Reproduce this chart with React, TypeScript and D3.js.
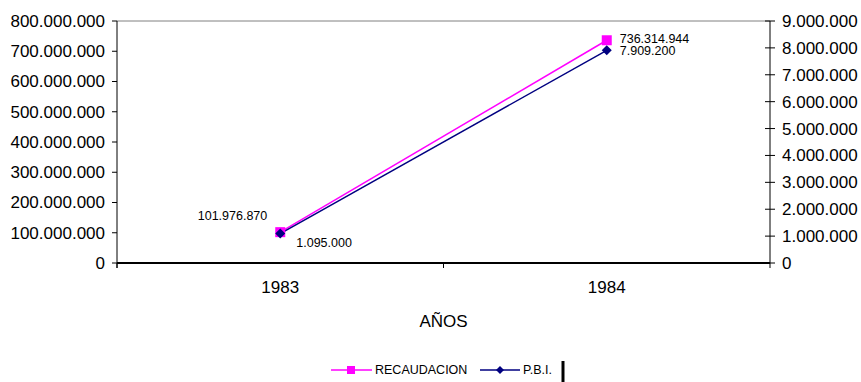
import React from 'react';
import * as d3 from 'd3';

const years = ['1983', '1984'];
const recaudacion = [101976870, 736314944];
const pbi = [1095000, 7909200];
const leftTicks = [0, 100000000, 200000000, 300000000, 400000000, 500000000, 600000000, 700000000, 800000000];
const rightTicks = [0, 1000000, 2000000, 3000000, 4000000, 5000000, 6000000, 7000000, 8000000, 9000000];

const fmt = (v: number) => d3.format(',')(v).replace(/,/g, '.');

const W = 861;
const H = 382;
const margin = { top: 21, right: 91, bottom: 119, left: 117 };
const FONT = '"Liberation Sans", Arial, sans-serif';
const BIG = 17;
const SMALL = 12.5;

export default function App() {
  const x = d3.scaleBand<string>().domain(years).range([margin.left, W - margin.right]).padding(0);
  const yL = d3.scaleLinear().domain([0, 800000000]).range([H - margin.bottom, margin.top]);
  const yR = d3.scaleLinear().domain([0, 9000000]).range([H - margin.bottom, margin.top]);
  const cx = (d: string) => (x(d) ?? 0) + x.bandwidth() / 2;
  const bottom = H - margin.bottom;
  const right = W - margin.right;

  const lineL = d3.line<number>().x((_, i) => cx(years[i])).y(d => yL(d));
  const lineR = d3.line<number>().x((_, i) => cx(years[i])).y(d => yR(d));

  const diamond = (px: number, py: number, r: number) =>
    `M${px},${py - r}L${px + r},${py}L${px},${py + r}L${px - r},${py}Z`;

  return (
    <svg width={W} height={H} style={{ position: 'absolute', left: 0, top: 0, fontFamily: FONT }}>
      <rect width={W} height={H} fill="#fff" />
      {/* frame */}
      <line x1={margin.left} x2={right} y1={margin.top} y2={margin.top} stroke="#808080" />
      <line x1={margin.left} x2={margin.left} y1={margin.top} y2={bottom + 5} stroke="#000" />
      <line x1={right} x2={right} y1={margin.top} y2={bottom + 5} stroke="#000" />
      <line x1={margin.left} x2={right} y1={bottom} y2={bottom} stroke="#000" strokeWidth={2} />

      {/* left axis */}
      {leftTicks.map(t => (
        <g key={'l' + t}>
          <line x1={margin.left - 5} x2={margin.left} y1={yL(t)} y2={yL(t)} stroke="#000" />
          <text x={margin.left - 12} y={yL(t)} dy="0.35em" textAnchor="end" fontSize={BIG} fill="#000">
            {fmt(t)}
          </text>
        </g>
      ))}

      {/* right axis */}
      {rightTicks.map(t => (
        <g key={'r' + t}>
          <line x1={right - 5} x2={right + 5} y1={yR(t)} y2={yR(t)} stroke="#000" />
          <text x={right + 12} y={yR(t)} dy="0.35em" textAnchor="start" fontSize={BIG} fill="#000">
            {fmt(t)}
          </text>
        </g>
      ))}

      {/* category ticks */}
      {years.map(y => (
        <line key={'t' + y} x1={x(y) ?? 0} x2={x(y) ?? 0} y1={bottom} y2={bottom + 5} stroke="#000" />
      ))}
      {years.map(y => (
        <text key={'c' + y} x={cx(y)} y={287} dy="0.35em" textAnchor="middle" fontSize={BIG}>
          {y}
        </text>
      ))}
      <text x={(margin.left + right) / 2} y={321} dy="0.35em" textAnchor="middle" fontSize={BIG}>
        AÑOS
      </text>

      {/* series */}
      <path d={lineL(recaudacion) ?? ''} fill="none" stroke="#ff00ff" strokeWidth={1.5} />
      <path d={lineR(pbi) ?? ''} fill="none" stroke="#000080" strokeWidth={1.5} />
      {recaudacion.map((v, i) => (
        <rect key={'m' + i} x={cx(years[i]) - 5} y={yL(v) - 5} width={10} height={10} fill="#ff00ff" />
      ))}
      {pbi.map((v, i) => (
        <path key={'d' + i} d={diamond(cx(years[i]), yR(v), 5)} fill="#000080" />
      ))}

      {/* data labels */}
      <text x={cx(years[0]) - 13} y={yL(recaudacion[0]) - 17} dy="0.35em" textAnchor="end" fontSize={SMALL}>
        {fmt(recaudacion[0])}
      </text>
      <text x={cx(years[0]) + 16} y={yR(pbi[0]) + 9} dy="0.35em" textAnchor="start" fontSize={SMALL}>
        {fmt(pbi[0])}
      </text>
      <text x={cx(years[1]) + 13} y={yL(recaudacion[1]) - 1.5} dy="0.35em" textAnchor="start" fontSize={SMALL}>
        {fmt(recaudacion[1])}
      </text>
      <text x={cx(years[1]) + 13} y={yR(pbi[1]) + 0.5} dy="0.35em" textAnchor="start" fontSize={SMALL}>
        {fmt(pbi[1])}
      </text>

      {/* legend */}
      <g>
        <line x1={331} x2={372} y1={370} y2={370} stroke="#ff00ff" strokeWidth={1.5} />
        <rect x={347} y={366} width={8} height={8} fill="#ff00ff" />
        <text x={375} y={370} dy="0.35em" fontSize={SMALL}>RECAUDACION</text>
        <line x1={480} x2={520} y1={370} y2={370} stroke="#000080" strokeWidth={1.5} />
        <path d={diamond(500, 370, 4)} fill="#000080" />
        <text x={523} y={370} dy="0.35em" fontSize={SMALL}>P.B.I.</text>
        <line x1={563} x2={563} y1={361} y2={382} stroke="#000" strokeWidth={3} />
      </g>
    </svg>
  );
}
